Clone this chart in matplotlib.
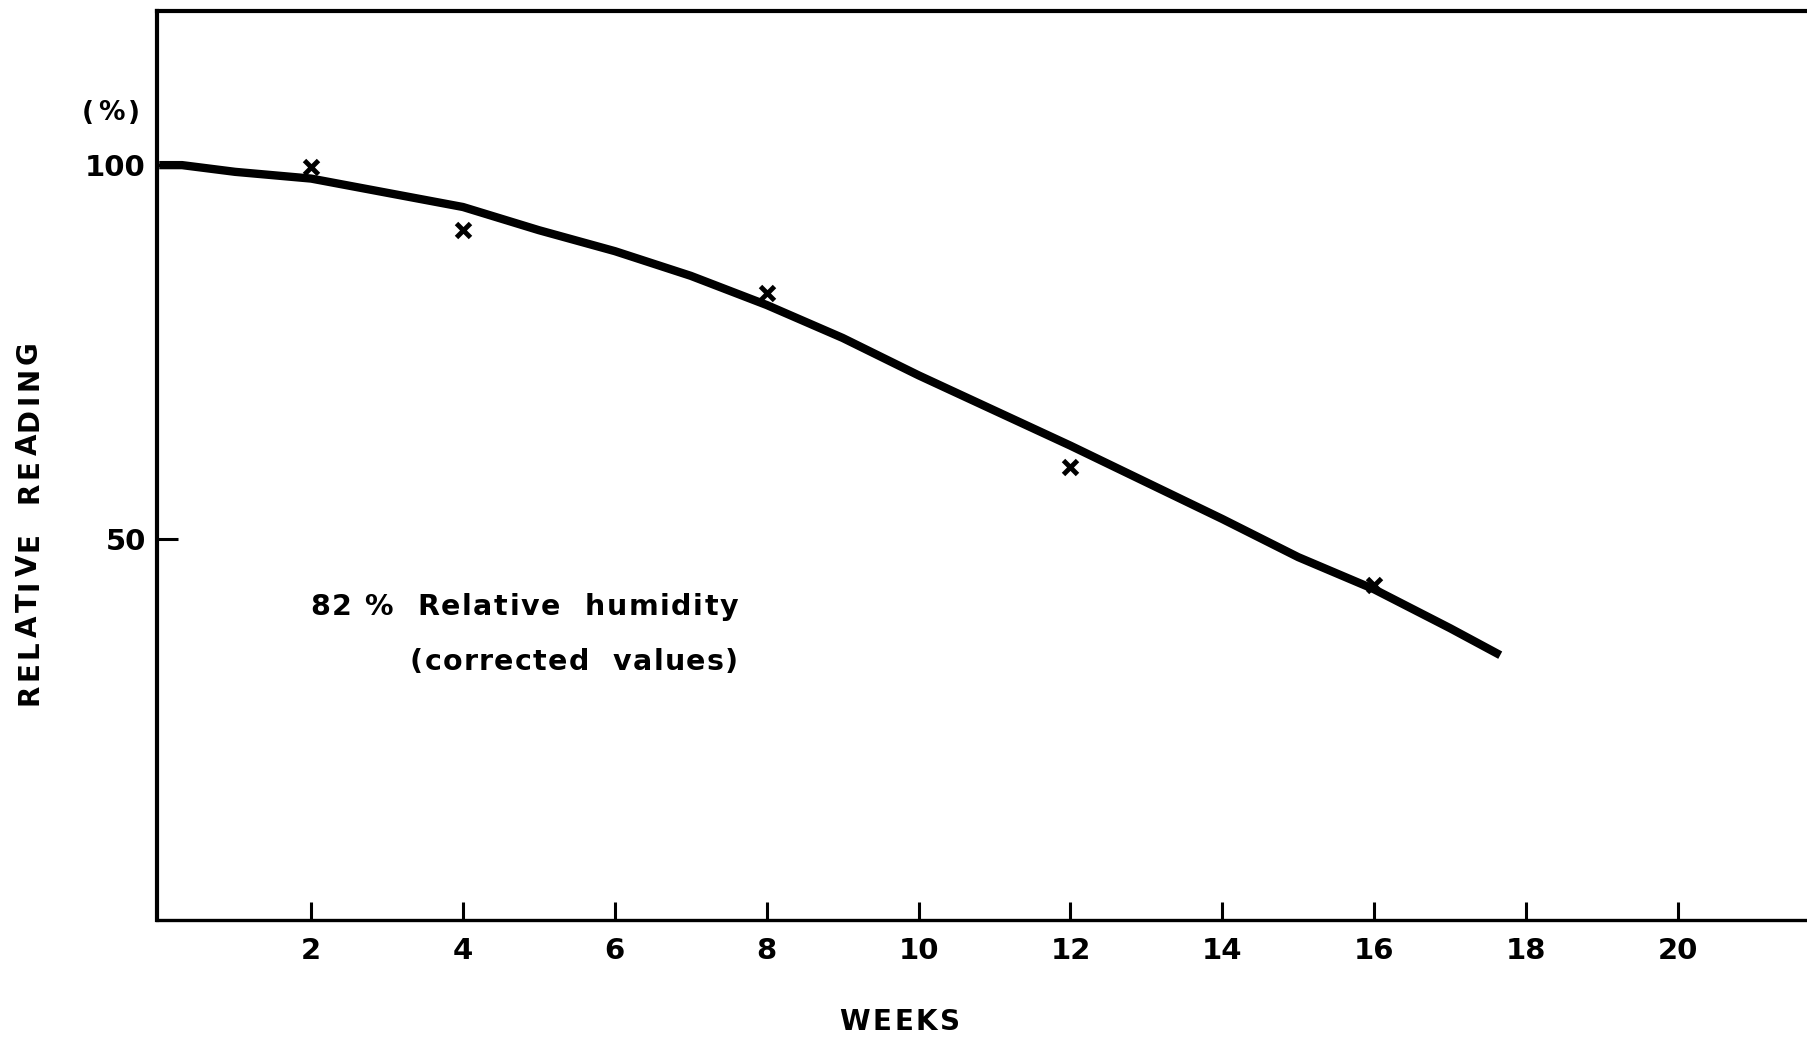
import matplotlib
matplotlib.use("Agg")
import matplotlib.pyplot as plt
from matplotlib.font_manager import FontProperties, findfont
from matplotlib.ft2font import FT2Font
from matplotlib.transforms import IdentityTransform

plt.rcParams['font.family'] = ['DejaVu Sans']
plt.rcParams['font.weight'] = 'bold'

# Measured relative readings (%) at each storage time (weeks)
weeks_measured = [2, 4, 8, 12, 16]
reading_measured = [99.8, 91.3, 82.9, 59.7, 43.9]

# Hand-drawn trend curve through the measurements
weeks_curve = [0.0, 0.3, 1, 2, 3, 4, 5, 6, 7, 8, 9, 10, 11, 12, 13, 14, 15,
               16, 17, 17.66]
reading_curve = [100.0, 100.0, 99.1, 98.2, 96.3, 94.4, 91.3, 88.5, 85.2, 81.3,
                 76.9, 71.9, 67.2, 62.5, 57.6, 52.7, 47.6, 43.3, 38.1, 34.5]

x_ticks = [2, 4, 6, 8, 10, 12, 14, 16, 18, 20]
y_ticks = [50, 100]

W, H, DPI = 1807, 1038, 100
fig = plt.figure(figsize=(W / DPI, H / DPI), dpi=DPI)
ax = fig.add_axes([157 / W, 118 / H, 1 - 157 / W, (920 - 11) / H])

ax.plot(weeks_curve, reading_curve, color='black', lw=6, solid_capstyle='butt',
        solid_joinstyle='round')
ax.plot(weeks_measured, reading_measured, linestyle='none', marker='x',
        ms=10, mew=3.5, color='black')

ax.set_xlim(-0.03, 21.7)
ax.set_ylim(-0.9, 120.6)

ax.spines['right'].set_visible(False)
ax.spines['left'].set_linewidth(3)
ax.spines['top'].set_linewidth(3)
ax.spines['bottom'].set_linewidth(2.4)

ax.set_xticks(x_ticks)
ax.set_xticklabels([str(t) for t in x_ticks])
ax.set_yticks(y_ticks)
ax.set_yticklabels([str(t) for t in y_ticks])
ax.tick_params(axis='x', direction='in', length=13, width=2.2, pad=12,
               labelsize=21)
ax.tick_params(axis='y', direction='in', length=15, width=2.2, pad=8,
               labelsize=21)


def glyph_advances(s, prop):
    """Horizontal advance of each character, in pixels."""
    font = FT2Font(findfont(prop))
    font.set_size(prop.get_size_in_points(), DPI)
    return [font.load_char(ord(ch)).linearHoriAdvance / 65536 for ch in s]


def spaced_text(s, start, cross, span, size, vertical=False):
    """Letter-spaced bold text: 'start' is the first character's edge,
    'cross' the baseline position (pixels from the top-left), 'span' the
    overall run length in pixels."""
    prop = FontProperties(family='DejaVu Sans', weight='bold', size=size)
    adv = glyph_advances(s, prop)
    track = (span - sum(adv)) / (len(s) - 1)
    pos = start
    for ch, a in zip(s, adv):
        if vertical:
            fig.text(cross, H - pos, ch, transform=IdentityTransform(),
                     fontproperties=prop, rotation=90, rotation_mode='anchor',
                     ha='left', va='baseline')
        else:
            fig.text(pos, H - cross, ch, transform=IdentityTransform(),
                     fontproperties=prop, ha='left', va='baseline')
        pos += (a + track) * (-1 if vertical else 1)


spaced_text('(%)', 82, 120, 58, 19)
spaced_text('RELATIVE  READING', 705, 37, 364, 20, vertical=True)
spaced_text('WEEKS', 839, 1030, 121, 20)
spaced_text('82 %  Relative  humidity', 310, 615, 428, 20.5)
spaced_text('(corrected  values)', 410, 670, 328, 20.5)

fig.savefig('out.png', dpi=DPI, facecolor='white')
